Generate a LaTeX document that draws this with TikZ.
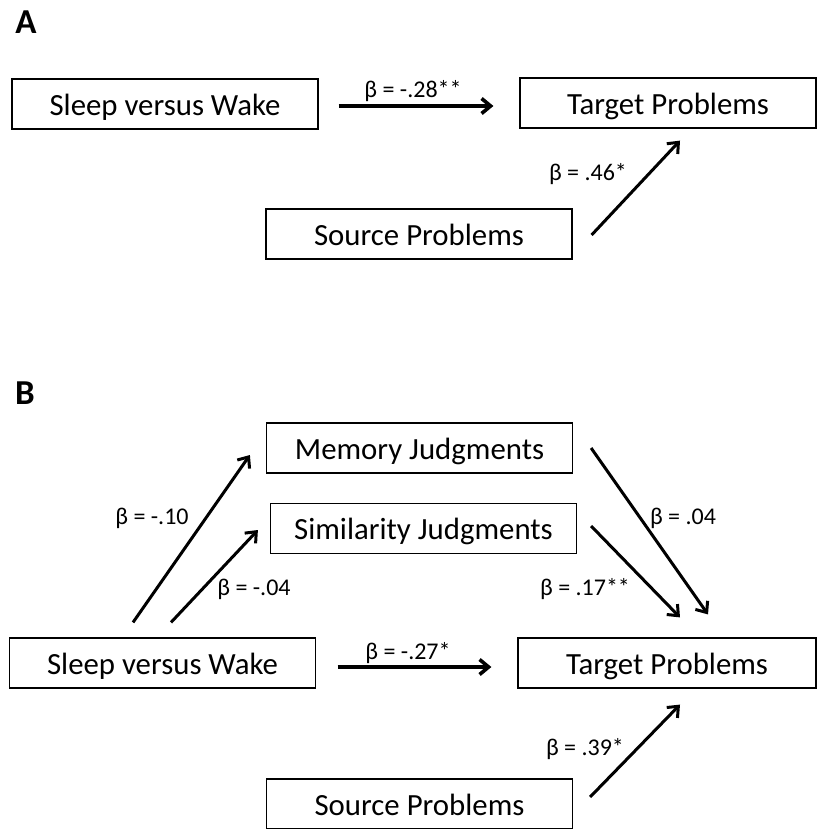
\documentclass[tikz,border=0pt]{standalone}
\usepackage{fontspec}
\setmainfont{Carlito}
\usepackage{tikz}
\usetikzlibrary{arrows.meta,positioning}

\begin{document}
\begin{tikzpicture}[x=0.5pt, y=-0.5pt,
        every node/.style={font=\fontsize{15.4}{18}\selectfont, align=center},
        bloc/.style={draw, line width=0.6pt, minimum width=153pt, minimum height=25pt, inner sep=0pt, text height=11pt, text depth=0pt},
        lettre/.style={font=\fontsize{17.5}{20}\selectfont\bfseries, inner sep=0pt, text height=11.5pt, text depth=0pt},
        beta/.style={font=\fontsize{12}{14}\selectfont, inner sep=0pt, text height=7.6pt, text depth=0pt},
        fleche/.style={line width=1.5pt, -{Straight Barb[length=4.5pt,width=7.5pt]}},
        fleche h/.style={fleche, line width=1.8pt}]
        \useasboundingbox (0,0) rectangle (816,829);

        % Panneau A
        \node[lettre] (lettreA) at (26,22) {A};
        \node[bloc] (sleepA) at (165,104) {Sleep versus Wake};
        \node[bloc, minimum width=148pt] (targetA) at (668,103) {Target Problems};
        \node[bloc] (sourceA) at (419,234) {Source Problems};

        \draw[fleche h] ([shift={(20,2)}]sleepA.east) -- ([shift={(-26,3)}]targetA.west);
        \draw[fleche] ([shift={(19,1)}]sourceA.east) -- ([shift={(12,12)}]targetA.south);
        \node[beta] (betaA1) at (413,90) {β = -.28**};
        \node[beta] (betaA2) at (588,173) {β = .46*};

        % Panneau B
        \node[lettre] (lettreB) at (25,393) {B};
        \node[bloc] (memory) at (419.5,448) {Memory Judgments};
        \node[bloc] (similarity) at (423.5,528.5) {Similarity Judgments};
        \node[bloc] (sleepB) at (162.5,663) {Sleep versus Wake};
        \node[bloc, minimum width=149pt] (targetB) at (667,663) {Target Problems};
        \node[bloc] (sourceB) at (419.5,804) {Source Problems};

        \draw[fleche] ([shift={(-29.5,-15)}]sleepB.north) -- ([shift={(-16,7)}]memory.west);
        \draw[fleche] ([shift={(8.5,-15)}]sleepB.north) -- ([shift={(-12,1.5)}]similarity.west);
        \draw[fleche] ([shift={(18,0)}]memory.east) -- ([shift={(41,-23)}]targetB.north);
        \draw[fleche] ([shift={(14,-2.5)}]similarity.east) -- ([shift={(13,-20)}]targetB.north);
        \draw[fleche h] ([shift={(21.5,4)}]sleepB.east) -- ([shift={(-26,4)}]targetB.west);
        \draw[fleche] ([shift={(17,-7)}]sourceB.east) -- ([shift={(13,16)}]targetB.south);

        % Coefficients
        \node[beta] (betaB1) at (152,517) {β = -.10};
        \node[beta] (betaB2) at (254,588) {β = -.04};
        \node[beta] (betaB3) at (683,517) {β = .04};
        \node[beta] (betaB4) at (585,588) {β = .17**};
        \node[beta] (betaB5) at (408,652) {β = -.27*};
        \node[beta] (betaB6) at (585,748) {β = .39*};
    \end{tikzpicture}
\end{document}
